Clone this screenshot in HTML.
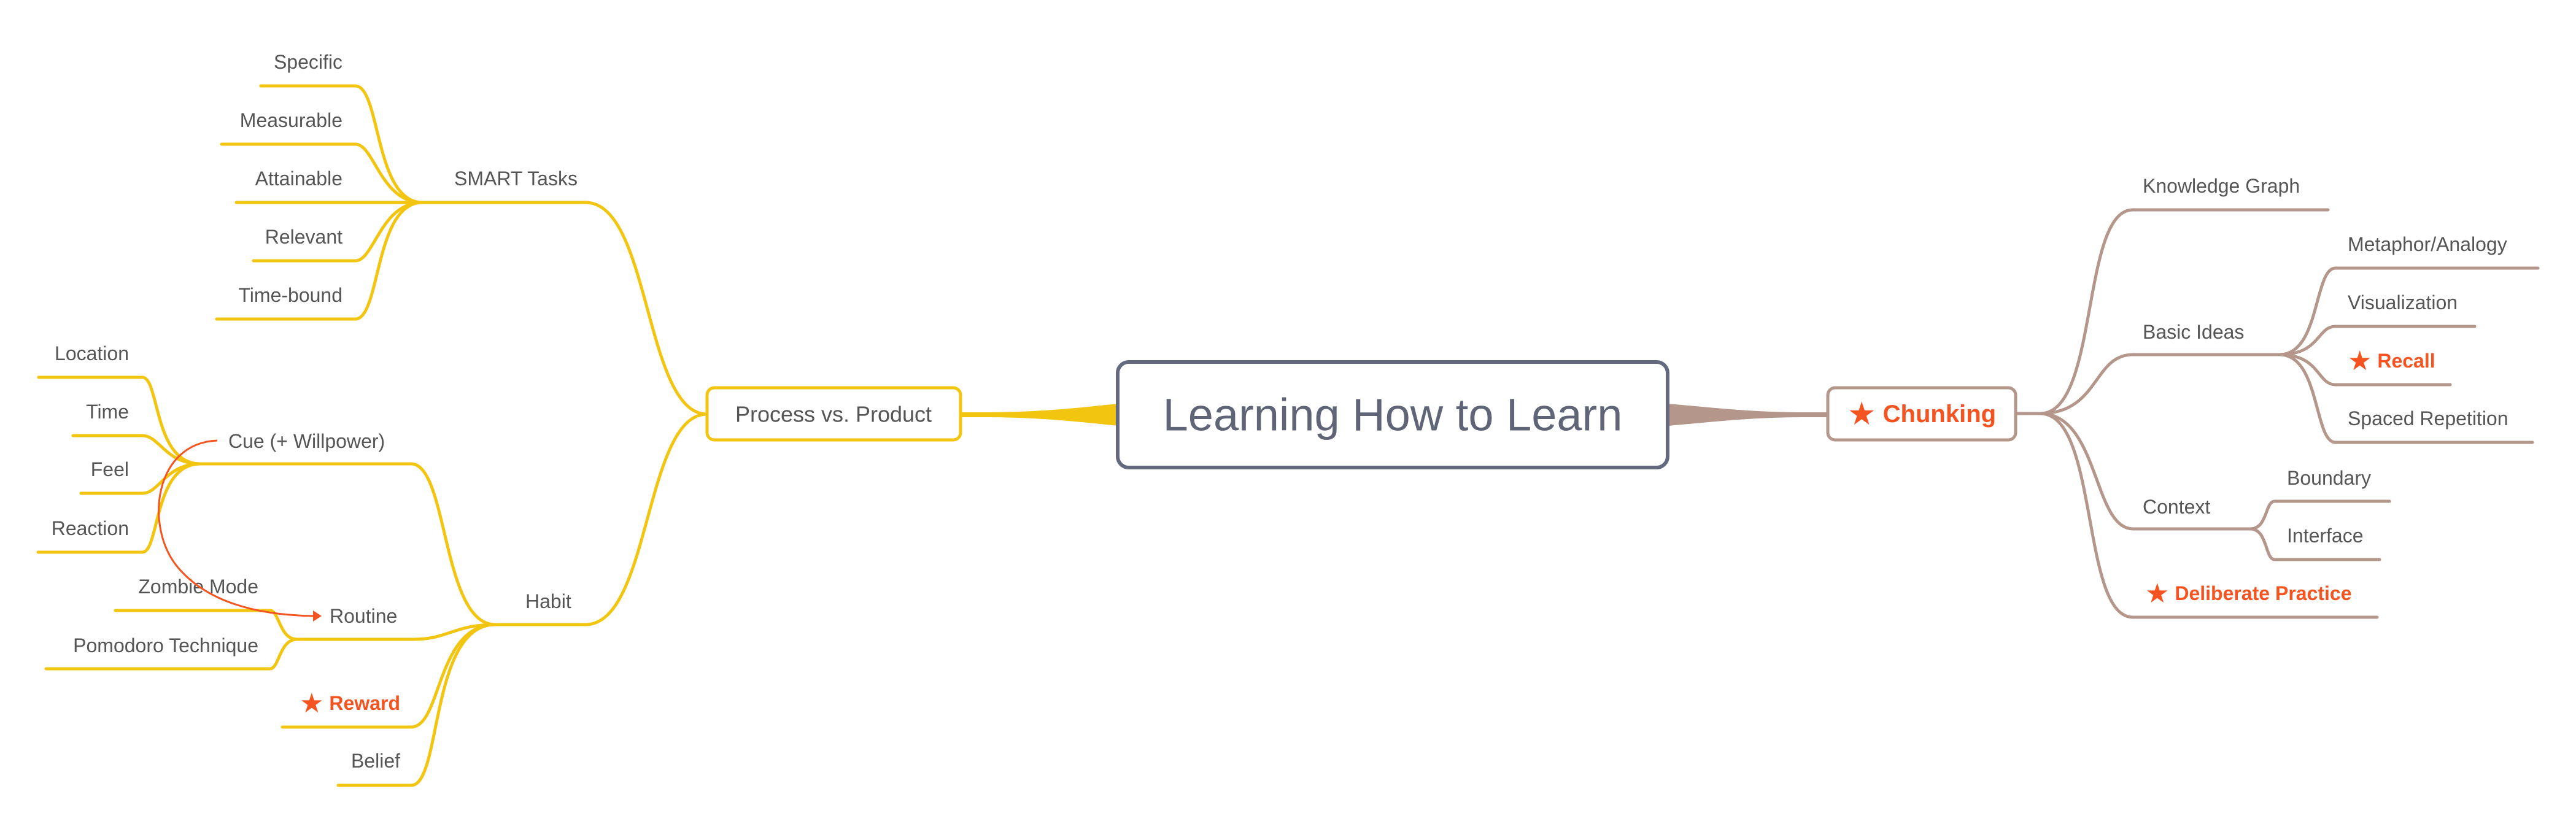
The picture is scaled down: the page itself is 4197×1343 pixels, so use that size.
<!DOCTYPE html>
<html><head><meta charset="utf-8"><style>
html,body{margin:0;padding:0;background:#fff;width:4197px;height:1343px;overflow:hidden}
svg{display:block}
text{font-family:"Liberation Sans","DejaVu Sans",sans-serif;dominant-baseline:central}
.l{font-size:32px;fill:#555}
.r{font-size:32px;fill:#555}
.o{font-size:32px;fill:#f5531f;font-weight:bold}
.s{font-size:44px;font-weight:normal}
.y{fill:none;stroke:#f2c511;stroke-width:5;stroke-linecap:round}
.b{fill:none;stroke:#b4968a;stroke-width:5;stroke-linecap:round}
</style></head><body>
<svg width="4197" height="1343" viewBox="0 0 4197 1343" xmlns="http://www.w3.org/2000/svg">
<path d="M1566,672 L1600,672 C1700,672 1760,664 1822,658 L1822,694 C1760,688 1700,680 1600,680 L1566,680 Z" fill="#f2c511"/>
<path d="M2977,672 L2945,672 C2850,672 2790,664 2718,658 L2718,694 C2790,688 2850,680 2945,680 L2977,680 Z" fill="#b4968a"/>

<rect x="1821" y="590" width="896" height="172" rx="18" fill="#fff" stroke="#636a7f" stroke-width="6"/>
<text x="2269" y="676" text-anchor="middle" style="font-size:74px;fill:#5f6577">Learning How to Learn</text>

<rect x="1152" y="632" width="413" height="85" rx="12" fill="#fff" stroke="#f2c511" stroke-width="5"/>
<text x="1358" y="675" text-anchor="middle" style="font-size:36px;fill:#555">Process vs. Product</text>

<rect x="2978" y="632" width="306" height="85" rx="12" fill="#fff" stroke="#b4968a" stroke-width="5"/>
<text x="3131" y="675" text-anchor="middle" style="font-size:40px;fill:#f5531f;font-weight:bold"><tspan style="font-size:52px;font-weight:normal">★</tspan> Chunking</text>

<path class="y" d="M1152,675 C1050,675 1060,330 954,330 L688,330"/>
<path class="y" d="M1152,675 C1050,675 1060,1018 954,1018 L807,1018"/>
<path class="y" d="M688,330 C610,330 620,140 579,140 L425,140"/>
<path class="y" d="M688,330 C620,330 610,235 579,235 L361,235"/>
<path class="y" d="M688,330 L385,330"/>
<path class="y" d="M688,330 C620,330 610,425 579,425 L413,425"/>
<path class="y" d="M688,330 C610,330 620,520 579,520 L353,520"/>
<text class="l" x="740" y="291">SMART Tasks</text>
<text class="l" x="558" y="101" text-anchor="end">Specific</text>
<text class="l" x="558" y="196" text-anchor="end">Measurable</text>
<text class="l" x="558" y="291" text-anchor="end">Attainable</text>
<text class="l" x="558" y="386" text-anchor="end">Relevant</text>
<text class="l" x="558" y="481" text-anchor="end">Time-bound</text>

<path class="y" d="M807,1018 C720,1018 730,756 670,756 L326,756"/>
<path class="y" d="M807,1018 C740,1018 730,1042 674,1042 L484,1042"/>
<path class="y" d="M807,1018 C710,1018 720,1185 670,1185 L460,1185"/>
<path class="y" d="M807,1018 C700,1018 720,1280 670,1280 L551,1280"/>
<text class="l" x="856" y="980">Habit</text>
<text class="l" x="372" y="719">Cue (+ Willpower)</text>
<text class="l" x="537" y="1004">Routine</text>
<text x="652" y="1146" text-anchor="end" class="o"><tspan class="s">★</tspan> Reward</text>
<text class="l" x="652" y="1240" text-anchor="end">Belief</text>

<path class="y" d="M326,756 C250,756 260,615 232,615 L63,615"/>
<path class="y" d="M326,756 C270,756 260,710 232,710 L119,710"/>
<path class="y" d="M326,756 C270,756 260,804 232,804 L132,804"/>
<path class="y" d="M326,756 C250,756 260,900 232,900 L62,900"/>
<text class="l" x="210" y="576" text-anchor="end">Location</text>
<text class="l" x="210" y="671" text-anchor="end">Time</text>
<text class="l" x="210" y="765" text-anchor="end">Feel</text>
<text class="l" x="210" y="861" text-anchor="end">Reaction</text>

<path class="y" d="M484,1042 C455,1042 455,995 440,995 L188,995"/>
<path class="y" d="M484,1042 C455,1042 455,1090 440,1090 L75,1090"/>
<text class="l" x="421" y="956" text-anchor="end">Zombie Mode</text>
<text class="l" x="421" y="1052" text-anchor="end">Pomodoro Technique</text>

<path d="M354,718 C250,722 235,860 290,925 C345,990 440,1003 512,1004" fill="none" stroke="#f5531f" stroke-width="3"/>
<path d="M510,995 L524,1004 L510,1013 Z" fill="#f5531f"/>

<path class="b" d="M3284,674 L3324,674"/>
<path class="b" d="M3324,674 C3420,674 3390,342 3475,342 L3793,342"/>
<path class="b" d="M3324,674 C3420,674 3410,578 3475,578 L3714,578"/>
<path class="b" d="M3324,674 C3420,674 3410,862 3475,862 L3666,862"/>
<path class="b" d="M3324,674 C3420,674 3390,1006 3475,1006 L3873,1006"/>
<text class="r" x="3491" y="303">Knowledge Graph</text>
<text class="r" x="3491" y="541">Basic Ideas</text>
<text class="r" x="3491" y="826">Context</text>
<text class="o" x="3495" y="967"><tspan class="s">★</tspan> Deliberate Practice</text>

<path class="b" d="M3714,578 C3780,578 3770,437 3805,437 L4135,437"/>
<path class="b" d="M3714,578 C3780,578 3775,532 3805,532 L4032,532"/>
<path class="b" d="M3714,578 C3780,578 3775,627 3805,627 L3992,627"/>
<path class="b" d="M3714,578 C3780,578 3770,721 3805,721 L4126,721"/>
<text class="r" x="3825" y="398">Metaphor/Analogy</text>
<text class="r" x="3825" y="493">Visualization</text>
<text class="o" x="3825" y="588"><tspan class="s">★</tspan> Recall</text>
<text class="r" x="3825" y="682">Spaced Repetition</text>

<path class="b" d="M3666,862 C3695,862 3690,817 3706,817 L3893,817"/>
<path class="b" d="M3666,862 C3695,862 3690,912 3706,912 L3877,912"/>
<text class="r" x="3726" y="779">Boundary</text>
<text class="r" x="3726" y="873">Interface</text>
</svg>
</body></html>
